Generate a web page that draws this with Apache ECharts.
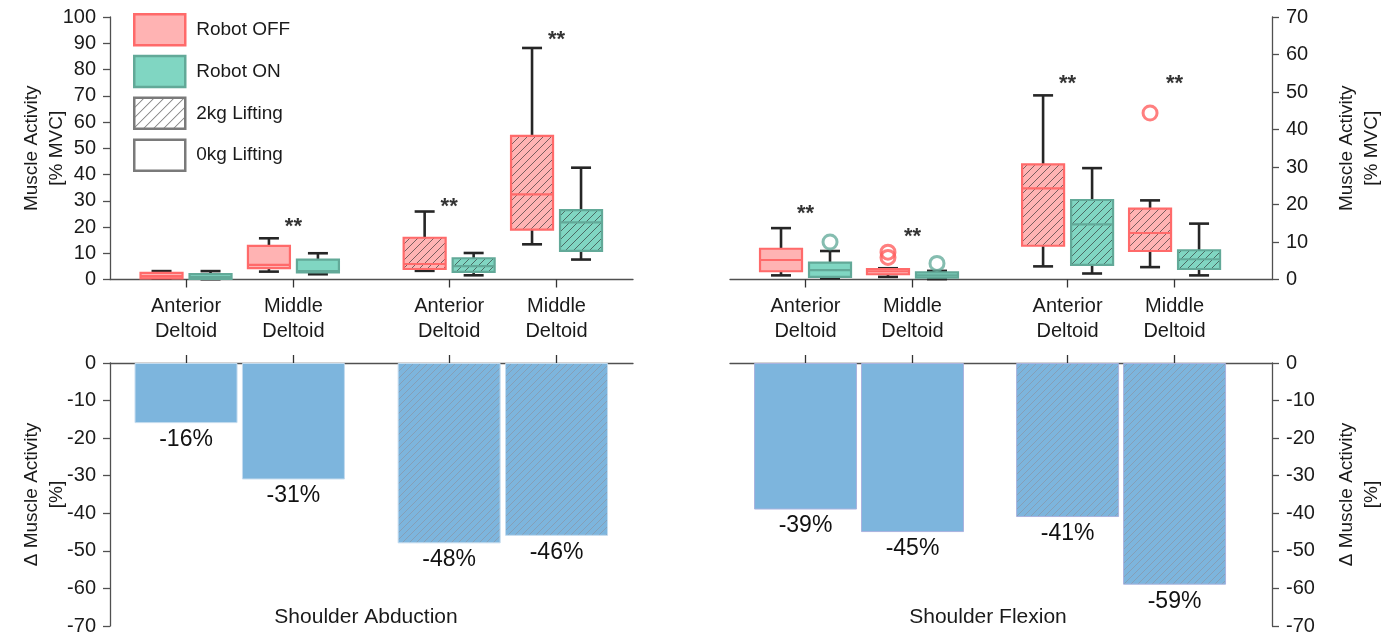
<!DOCTYPE html>
<html>
<head>
<meta charset="utf-8">
<script src="https://cdn.jsdelivr.net/npm/echarts@6/dist/echarts.min.js"></script>
<style>
  html, body { margin: 0; padding: 0; background: #ffffff; }
  #chart { width: 1392px; height: 637px; }
</style>
</head>
<body>
<div id="chart"></div>
<script>
// ---- data -------------------------------------------------------------
const muscles = ['Anterior Deltoid', 'Middle Deltoid', 'Anterior Deltoid', 'Middle Deltoid'];
const loads = ['0kg', '0kg', '2kg', '2kg'];

// five-number summaries [min, Q1, median, Q3, max] in % MVC
const abductionOff = [[0.3, 0.4, 1.3, 2.5, 3.2], [3.0, 4.3, 5.6, 12.8, 15.7], [3.3, 4.0, 5.9, 15.9, 25.9], [13.4, 19.0, 32.4, 54.7, 88.2]];
const abductionOn  = [[0.1, 0.2, 1.0, 2.1, 3.2], [2.0, 2.7, 3.2, 7.6, 10.0], [1.6, 2.9, 5.1, 8.1, 10.1], [7.6, 10.9, 21.8, 26.4, 42.6]];
const flexionOff   = [[1.1, 2.2, 5.2, 8.2, 13.7], [0.7, 1.4, 2.2, 2.8, 3.0], [3.5, 9.0, 24.3, 30.7, 49.1], [3.3, 7.6, 12.4, 18.9, 21.1]];
const flexionOn    = [[0.3, 0.7, 2.5, 4.5, 7.6], [0.1, 0.5, 1.1, 1.9, 2.3], [1.6, 3.9, 14.7, 21.2, 29.7], [1.1, 2.8, 5.4, 7.8, 14.9]];

// outliers as [muscle index, % MVC]
const flexionOffOutliers = [[1, 7.3], [1, 5.9], [3, 44.4]];
const flexionOnOutliers  = [[0, 10.0], [1, 4.3]];

// height of the significance marks (null = none)
const abductionSig = [null, 21.8, 29.4, 93.0];
const flexionSig   = [18.8, 12.6, 53.5, 53.5];

// change in muscle activity with the robot on, %
const abductionChange = [-16, -31, -48, -46];
const flexionChange   = [-39, -45, -41, -59];

const mvcTicksLeft = [0, 100];
const mvcTicksRight = [0, 70];
const changeTicks = [-70, 0];

// ---- styling helpers --------------------------------------------------
const FONT = '"Liberation Sans", Arial, Helvetica, sans-serif';
const TEXT = '#1a1a1a';
const AXIS = '#505050';

function hatch(bg, stroke, size, width) {
  const c = document.createElement('canvas');
  c.width = size; c.height = size;
  const g = c.getContext('2d');
  if (bg) { g.fillStyle = bg; g.fillRect(0, 0, size, size); }
  g.strokeStyle = stroke; g.lineWidth = width;
  g.beginPath();
  g.moveTo(0, size); g.lineTo(size, 0);
  g.moveTo(-1, 1); g.lineTo(1, -1);
  g.moveTo(size - 1, size + 1); g.lineTo(size + 1, size - 1);
  g.stroke();
  return { image: c, repeat: 'repeat' };
}

const offFill = { solid: '#ffb3b3', hatch: hatch('#ffb3b3', 'rgba(45,45,45,0.8)', 8, 0.8) };
const onFill  = { solid: '#80d6c2', hatch: hatch('#80d6c2', 'rgba(45,45,45,0.8)', 8, 0.8) };
const offEdge = '#ff6a6a';
const onEdge  = '#62a998';
const barBlue = '#7db5dd';
const barHatch = hatch(barBlue, 'rgba(140,140,150,0.6)', 7, 0.9);
const legendHatch = hatch('#ffffff', '#3a3a3a', 10, 0.8);

// category slots along each x axis (two pairs separated by a wider gap)
const slot = [1, 2, 3.45, 4.45];

function boxRenderer(side, fills, edge) {
  return function (params, api) {
    const i = params.dataIndex;
    const x = api.value(0);
    const at = d => api.coord([x, api.value(d)]);
    const cx = at(1)[0] + side * 24.5;
    const yMin = at(1)[1], yQ1 = at(2)[1], yMed = at(3)[1], yQ3 = at(4)[1], yMax = at(5)[1];
    const hw = 21, cap = 10;
    const whisker = { stroke: '#262626', lineWidth: 2.6 };
    const fill = loads[i] === '2kg' ? fills.hatch : fills.solid;
    return {
      type: 'group',
      children: [
        { type: 'line', shape: { x1: cx, y1: yMax, x2: cx, y2: yQ3 }, style: whisker },
        { type: 'line', shape: { x1: cx, y1: yQ1, x2: cx, y2: yMin }, style: whisker },
        { type: 'line', shape: { x1: cx - cap, y1: yMax, x2: cx + cap, y2: yMax }, style: whisker },
        { type: 'line', shape: { x1: cx - cap, y1: yMin, x2: cx + cap, y2: yMin }, style: whisker },
        { type: 'rect', shape: { x: cx - hw, y: yQ3, width: 2 * hw, height: Math.max(yQ1 - yQ3, 1) },
          style: { fill: fill, stroke: edge, lineWidth: 2.2 } },
        { type: 'line', shape: { x1: cx - hw, y1: yMed, x2: cx + hw, y2: yMed },
          style: { stroke: edge, lineWidth: 2.2 } }
      ]
    };
  };
}

function boxSeries(name, stats, side, fills, edge, axisIdx) {
  return {
    name: name,
    type: 'custom',
    xAxisIndex: axisIdx, yAxisIndex: axisIdx,
    itemStyle: { color: fills.solid },
    dimensions: ['x', 'min', 'q1', 'median', 'q3', 'max'],
    encode: { x: 0, y: [1, 2, 3, 4, 5] },
    data: stats.map((s, k) => [slot[k]].concat(s)),
    renderItem: boxRenderer(side, fills, edge),
    z: 3
  };
}

function outlierSeries(points, side, color, axisIdx) {
  return {
    type: 'scatter',
    xAxisIndex: axisIdx, yAxisIndex: axisIdx,
    symbol: 'circle', symbolSize: 14, symbolOffset: [side * 24.5, 0],
    itemStyle: { color: 'rgba(255,255,255,0)', borderColor: color, borderWidth: 3 },
    data: points.map(p => [slot[p[0]], p[1]]),
    z: 4
  };
}

function sigSeries(levels, axisIdx) {
  return {
    type: 'scatter',
    xAxisIndex: axisIdx, yAxisIndex: axisIdx,
    symbol: 'circle', symbolSize: 1,
    itemStyle: { color: 'rgba(0,0,0,0)' },
    label: { show: true, position: 'inside', formatter: '**', color: '#000',
             fontSize: 22, fontWeight: 'bold', fontFamily: FONT, offset: [0, 5] },
    data: levels.map((v, k) => v == null ? null : [slot[k], v]).filter(d => d),
    z: 5
  };
}

function barSeries(name, values, idxs, fill, border, axisIdx) {
  return {
    name: name,
    type: 'bar',
    xAxisIndex: axisIdx, yAxisIndex: axisIdx,
    barWidth: 103, barGap: '-100%',
    itemStyle: { color: fill, borderColor: border, borderWidth: 1 },
    label: { show: true, position: 'bottom', distance: 5, color: '#111',
             fontSize: 23, fontFamily: FONT, formatter: p => p.value[1] + '%' },
    data: idxs.map(k => [slot[k], values[k]])
  };
}

function categoryAxis(gridIndex, min, max, showLabels, position) {
  return {
    type: 'value', gridIndex: gridIndex, min: min, max: max, position: position,
    axisLine: { show: true, onZero: false, lineStyle: { color: AXIS, width: 1.3 } },
    axisTick: { show: true, customValues: slot, length: 8, inside: false, lineStyle: { color: '#333', width: 1.3 } },
    axisLabel: showLabels ? {
      show: true, customValues: slot, margin: 14, color: TEXT, fontSize: 20, fontFamily: FONT, lineHeight: 25,
      formatter: v => {
        const k = slot.findIndex(s => Math.abs(s - v) < 1e-6);
        return k < 0 ? '' : muscles[k].replace(' ', '\n');
      }
    } : { show: false },
    splitLine: { show: false }
  };
}

function valueAxis(gridIndex, range, position, name) {
  return {
    type: 'value', gridIndex: gridIndex, min: range[0], max: range[1], interval: 10,
    position: position,
    name: name, nameLocation: 'middle', nameGap: position === 'left' ? 41 : 62,
    nameMoveOverlap: false,
    nameTextStyle: { color: TEXT, fontSize: 19, fontFamily: FONT, lineHeight: 25 },
    axisLine: { show: true, onZero: false, lineStyle: { color: AXIS, width: 1.3 } },
    axisTick: { show: true, length: 7, lineStyle: { color: AXIS, width: 1.3 } },
    axisLabel: { color: TEXT, fontSize: 20, fontFamily: FONT, margin: 14 },
    splitLine: { show: false }
  };
}

const option = {
  animation: false,
  backgroundColor: '#ffffff',
  textStyle: { fontFamily: FONT },
  title: [
    { text: 'Shoulder Abduction', left: 366, top: 607, padding: 0, textAlign: 'center',
      textStyle: { color: TEXT, fontSize: 21, fontWeight: 'normal', fontFamily: FONT } },
    { text: 'Shoulder Flexion', left: 988, top: 607, padding: 0, textAlign: 'center',
      textStyle: { color: TEXT, fontSize: 21, fontWeight: 'normal', fontFamily: FONT } }
  ],
  legend: {
    left: 133, top: 13, padding: 0, orient: 'vertical',
    itemWidth: 51, itemHeight: 31, itemGap: 8.3, selectedMode: false,
    textStyle: { color: TEXT, fontSize: 19, fontFamily: FONT, padding: [0, 0, 0, 6] },
    data: [
      { name: 'Robot OFF', icon: 'rect', itemStyle: { color: offFill.solid, borderColor: offEdge, borderWidth: 2.5 } },
      { name: 'Robot ON', icon: 'rect', itemStyle: { color: onFill.solid, borderColor: onEdge, borderWidth: 2.5 } },
      { name: '2kg Lifting', icon: 'rect', itemStyle: { color: legendHatch, borderColor: '#7a7a7a', borderWidth: 2.5 } },
      { name: '0kg Lifting', icon: 'rect', itemStyle: { color: '#ffffff', borderColor: '#7a7a7a', borderWidth: 2.5 } }
    ]
  },
  grid: [
    { left: 110, top: 17, width: 523, height: 262.5, outerBoundsMode: 'none' },
    { left: 730, top: 17, width: 542, height: 262.5, outerBoundsMode: 'none' },
    { left: 110, top: 363, width: 523, height: 263, outerBoundsMode: 'none' },
    { left: 730, top: 363, width: 542, height: 263, outerBoundsMode: 'none' }
  ],
  xAxis: [
    categoryAxis(0, 0.292, 5.162, true, 'bottom'),
    categoryAxis(1, 0.294, 5.361, true, 'bottom'),
    categoryAxis(2, 0.292, 5.162, false, 'top'),
    categoryAxis(3, 0.294, 5.361, false, 'top')
  ],
  yAxis: [
    valueAxis(0, mvcTicksLeft, 'left', 'Muscle Activity\n[% MVC]'),
    valueAxis(1, mvcTicksRight, 'right', 'Muscle Activity\n[% MVC]'),
    valueAxis(2, changeTicks, 'left', 'Δ Muscle Activity\n[%]'),
    valueAxis(3, changeTicks, 'right', 'Δ Muscle Activity\n[%]')
  ],
  series: [
    boxSeries('Robot OFF', abductionOff, -1, offFill, offEdge, 0),
    boxSeries('Robot ON', abductionOn, 1, onFill, onEdge, 0),
    boxSeries('Robot OFF', flexionOff, -1, offFill, offEdge, 1),
    boxSeries('Robot ON', flexionOn, 1, onFill, onEdge, 1),
    outlierSeries(flexionOffOutliers, -1, '#ff5f5f', 1),
    outlierSeries(flexionOnOutliers, 1, '#66ad9c', 1),
    sigSeries(abductionSig, 0),
    sigSeries(flexionSig, 1),
    barSeries('0kg Lifting', abductionChange, [0, 1], barBlue, '#c3dbef', 2),
    barSeries('2kg Lifting', abductionChange, [2, 3], barHatch, '#c3dbef', 2),
    barSeries('0kg Lifting', flexionChange, [0, 1], barBlue, '#a9b3df', 3),
    barSeries('2kg Lifting', flexionChange, [2, 3], barHatch, '#a9b3df', 3)
  ]
};

const chart = echarts.init(document.getElementById('chart'), null, { renderer: 'canvas' });
chart.setOption(option);
</script>
</body>
</html>
